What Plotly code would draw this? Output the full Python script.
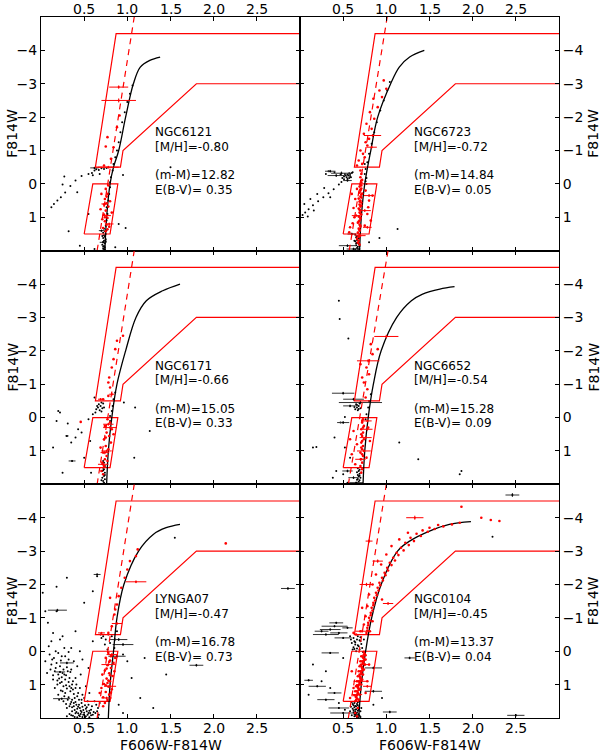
import plotly.graph_objects as go
from plotly.subplots import make_subplots

# panel order, row by row
clusters = ['NGC6121', 'NGC6723', 'NGC6171', 'NGC6652', 'LYNGA07', 'NGC0104']
metallicity = ['-0.80', '-0.72', '-0.66', '-0.54', '-0.47', '-0.45']
dist_modulus = ['12.82', '14.84', '15.05', '15.28', '16.78', '13.37']
reddening = ['0.35', '0.05', '0.33', '0.09', '0.73', '0.04']

x_ticks = [0.5, 1.0, 1.5, 2.0, 2.5]
y_ticks = [-4, -3, -2, -1, 0, 1]

# selection region (same in every panel)
upper_box_x = [3.0, 0.87, 0.63, 0.92, 0.95, 1.8, 3.0]
upper_box_y = [-4.5, -4.5, -0.5, -0.5, -1.0, -3.0, -3.0]
lower_box_x = [0.5, 0.6, 0.89, 0.8, 0.5]
lower_box_y = [1.5, 0.0, 0.0, 1.5, 1.5]
gray_levels = [-3.5, -3.0]

# dashed red line, colour at F814W = 2 and -5
dash_y = [2.0, -5.0]
dash_x = {
    'NGC6121': [0.65, 1.08], 'NGC6723': [0.57, 1.01], 'NGC6171': [0.65, 1.08],
    'NGC6652': [0.56, 1.02], 'LYNGA07': [0.65, 1.08], 'NGC0104': [0.56, 1.00],
}

# isochrones
iso = {
    'NGC6121': ([0.74, 0.76, 0.80, 0.84, 0.90, 0.98, 1.07, 1.15, 1.26, 1.38],
                [2.0, 1.0, 0.0, -0.5, -1.0, -2.0, -3.0, -3.5, -3.7, -3.8]),
    'NGC6723': ([0.69, 0.71, 0.75, 0.82, 0.90, 1.05, 1.15, 1.27, 1.44],
                [2.0, 1.0, 0.0, -1.0, -2.0, -3.0, -3.5, -3.8, -4.0]),
    'NGC6171': ([0.76, 0.78, 0.82, 0.88, 0.98, 1.10, 1.22, 1.41, 1.61],
                [2.0, 1.0, 0.0, -1.0, -2.0, -3.0, -3.5, -3.8, -4.0]),
    'NGC6652': ([0.73, 0.75, 0.79, 0.85, 0.94, 1.12, 1.29, 1.42, 1.62, 1.79],
                [2.0, 1.0, 0.0, -1.0, -2.0, -3.0, -3.5, -3.7, -3.85, -3.92]),
    'LYNGA07': ([0.78, 0.80, 0.84, 0.88, 0.96, 1.13, 1.30, 1.45, 1.61],
                [2.0, 1.0, 0.0, -1.0, -2.0, -3.0, -3.5, -3.7, -3.8]),
    'NGC0104': ([0.68, 0.71, 0.76, 0.83, 0.94, 1.13, 1.27, 1.50, 1.73, 1.98],
                [2.0, 1.0, 0.0, -1.0, -2.0, -3.0, -3.3, -3.6, -3.8, -3.88]),
}

# ---- NGC6121 ----
ngc6121_black = [
    (0.12, 0.70), (0.15, 0.60), (0.19, 0.50), (0.23, 0.40), (0.28, 0.26), (0.34, 0.06),
    (0.40, -0.10), (0.47, -0.24), (0.27, -0.22), (0.25, 0.02), (0.42, 0.25),
    (0.32, 1.42), (0.45, 1.85), (0.55, -0.30), (0.59, -0.33), (0.62, -0.40), (0.64, -0.44),
    (0.67, -0.42), (0.70, -0.47), (0.73, -0.45), (0.76, -0.48), (0.60, -0.26), (0.68, -0.30),
    (0.95, -0.27), (0.98, 1.32), (1.50, -0.50), (0.62, 1.95), (0.86, 1.90), (0.90, 1.20),
    (0.55, 0.90), (0.73, 1.98), (0.72, 1.94), (0.74, 1.90), (0.73, 1.86), (0.71, 1.82),
    (0.74, 1.78), (0.72, 1.74), (0.73, 1.70), (0.75, 1.66), (0.72, 1.62), (0.74, 1.58),
    (0.73, 1.54), (0.75, 1.50), (0.72, 1.46), (0.74, 1.42), (0.76, 1.38), (0.73, 1.34),
    (0.75, 1.25), (0.76, 1.10), (0.77, 0.90), (0.76, 0.70), (0.78, 0.50), (0.79, 0.30),
    (0.80, 0.10), (0.80, -0.05), (0.81, -0.20), (0.83, -0.40), (0.84, -0.60), (0.86, -0.80),
    (0.88, -1.00), (0.90, -1.25), (0.92, -1.55), (0.94, -1.85), (0.97, -2.15), (1.00, -2.45),
    (1.03, -2.70), (1.06, -2.95), (0.74, 1.96), (0.72, 1.88), (0.75, 1.72), (0.71, 1.56),
]
ngc6121_black_err = [(0.62, -0.48, 0.05, 0.03), (0.72, 1.75, 0.04, 0.03), (0.70, 1.40, 0.03, 0.03)]
ngc6121_red = [
    (0.75, 0.15), (0.77, 0.30), (0.74, 0.45), (0.76, 0.58), (0.78, 0.68), (0.75, 0.80),
    (0.73, 0.92), (0.77, 1.02), (0.74, 1.12), (0.76, 1.22), (0.72, 1.32), (0.75, 1.42),
    (0.70, 0.30), (0.80, 0.52), (0.69, 0.76), (0.82, 0.86), (0.71, 1.06), (0.79, 1.28),
    (0.78, 0.05), (0.73, 0.62), (0.73, -0.55), (0.81, -0.75), (0.84, -1.10), (0.77, -1.40),
    (0.88, -1.70), (0.91, -2.05), (0.75, -1.12), (0.76, 0.38), (0.74, 1.00), (0.77, 1.36),
]
ngc6121_red_err = [
    (0.78, -0.50, 0.12, 0.04), (0.90, -2.50, 0.20, 0.06), (0.90, -2.90, 0.11, 0.05),
    (0.76, 0.95, 0.05, 0.05), (0.74, 0.60, 0.04, 0.04), (0.79, 1.20, 0.05, 0.04),
]

# ---- NGC6723 ----
ngc6723_black = [
    (0.00, 1.00), (0.03, 0.93), (0.06, 0.86), (0.10, 0.76), (0.15, 0.64), (0.21, 0.52),
    (0.27, 0.40), (0.33, 0.28), (0.39, 0.16), (0.45, 0.02), (0.48, -0.06), (0.51, -0.14),
    (0.54, -0.20), (0.56, -0.25), (0.58, -0.30), (0.60, -0.33),
    (0.53, -0.25), (0.55, -0.15), (0.57, -0.32), (0.59, -0.20), (0.51, -0.22), (0.49, -0.18),
    (0.61, -0.35), (0.47, -0.28), (0.05, 0.60), (0.12, 0.45), (0.20, 0.30), (0.28, 0.12),
    (0.35, 0.40), (0.09, 0.98), (0.16, 0.80), (0.40, -0.35), (0.30, -0.30), (0.33, -0.38),
    (0.55, -0.28), (0.57, -0.18), (0.52, -0.30), (0.58, -0.24),
    (0.75, -0.60), (0.76, -0.45), (0.75, -0.30), (0.77, -0.18), (0.76, -0.08), (0.77, 0.00),
    (0.64, 1.52), (0.66, 1.56), (0.65, 1.60), (0.67, 1.64), (0.66, 1.68), (0.64, 1.72),
    (0.66, 1.76), (0.68, 1.80), (0.65, 1.84), (0.67, 1.88), (0.66, 1.92), (0.64, 1.96),
    (0.68, 1.99), (0.63, 1.70), (0.69, 1.86), (0.65, 1.78), (0.67, 1.94), (0.68, 1.62),
    (0.78, -0.65), (0.80, -0.90), (0.83, -1.20), (0.86, -1.55), (0.89, -1.85), (0.93, -2.20),
    (0.97, -2.50), (1.01, -2.80), (1.04, -3.05), (1.13, 1.35), (0.92, 1.62), (0.80, 1.75),
]
ngc6723_black_err = [
    (0.42, -0.25, 0.10, 0.04), (0.35, -0.38, 0.06, 0.04), (0.48, -0.32, 0.12, 0.05),
    (0.55, -0.10, 0.05, 0.03), (0.60, 1.50, 0.05, 0.04), (0.55, 1.85, 0.10, 0.04),
    (0.62, 1.95, 0.08, 0.04),
]
ngc6723_red = [
    (0.70, -0.40), (0.71, -0.30), (0.70, -0.20), (0.72, -0.12), (0.71, -0.05), (0.70, 0.02),
    (0.69, 0.08), (0.71, 0.14), (0.70, 0.20), (0.69, 0.26), (0.71, 0.32), (0.70, 0.38),
    (0.68, 0.44), (0.70, 0.50), (0.71, 0.56), (0.69, 0.62), (0.70, 0.68), (0.68, 0.74),
    (0.70, 0.80), (0.69, 0.86), (0.71, 0.92), (0.68, 0.98), (0.70, 1.04), (0.69, 1.10),
    (0.67, 1.16), (0.69, 1.22), (0.70, 1.28), (0.68, 1.34), (0.69, 1.40), (0.67, 1.46),
    (0.69, 1.52), (0.68, 1.58), (0.66, 1.64), (0.68, 1.70), (0.67, 1.76), (0.69, 1.82),
    (0.71, 0.05), (0.70, 0.17), (0.72, 0.29), (0.71, 0.41), (0.69, 0.53), (0.71, 0.65),
    (0.69, 0.77), (0.70, 0.89), (0.70, 1.01), (0.68, 1.13), (0.70, 1.25), (0.69, 1.37),
    (0.60, 0.30), (0.62, 0.72), (0.80, 0.50), (0.82, 1.10), (0.58, 1.30), (0.63, 1.00),
    (0.76, 0.20), (0.66, 0.15), (0.78, 0.90), (0.64, 0.45), (0.75, 1.25), (0.57, 1.45),
    (0.84, 0.35), (0.61, 1.18), (0.79, 0.70), (0.72, -0.60), (0.75, -0.80), (0.70, -1.00),
    (0.78, -1.15), (0.80, -1.35), (0.74, -1.50), (0.83, -1.65), (0.77, -1.80), (0.86, -1.95),
    (0.81, -2.15), (0.90, -2.30), (0.85, -2.55), (0.95, -2.60), (0.92, -2.80), (1.00, -2.85),
    (0.97, -3.10), (0.68, -0.70), (0.66, -0.55), (0.73, -0.90), (0.76, -1.25),
]
ngc6723_red_err = [
    (0.84, -1.45, 0.10, 0.04), (0.83, -1.10, 0.06, 0.04), (0.80, 0.35, 0.06, 0.04),
    (0.75, 0.80, 0.07, 0.04), (0.78, 1.30, 0.05, 0.04), (0.70, 1.55, 0.06, 0.04),
    (0.65, 0.95, 0.05, 0.04),
]

# ---- NGC6171 ----
ngc6171_black = [
    (0.64, -0.25), (0.66, -0.30), (0.68, -0.22), (0.69, -0.35), (0.70, -0.18), (0.67, -0.40),
    (0.71, -0.28), (0.72, -0.42), (0.65, -0.35), (0.70, -0.45), (0.73, -0.30), (0.63, -0.15),
    (0.72, 1.30), (0.73, 1.35), (0.71, 1.40), (0.74, 1.45), (0.72, 1.50), (0.73, 1.55),
    (0.71, 1.60), (0.74, 1.65), (0.72, 1.70), (0.73, 1.75), (0.71, 1.80), (0.74, 1.85),
    (0.72, 1.90), (0.73, 1.95), (0.71, 1.98), (0.74, 1.72), (0.72, 1.58), (0.70, 1.88),
    (0.80, 0.10), (0.80, -0.05), (0.82, -0.20), (0.83, -0.35), (0.84, -0.55), (0.86, -0.75),
    (0.20, -0.20), (0.18, 0.10), (0.31, 0.18), (0.14, 0.90), (0.25, 1.65), (0.58, 1.65),
    (0.43, 0.35), (0.50, 1.20), (0.57, 0.70), (1.08, 1.20), (1.26, 0.40), (0.96, -0.45),
    (1.09, -0.30), (0.60, -0.10), (0.47, 0.45), (0.62, -0.60), (0.35, 0.75), (0.22, -0.15),
    (0.40, 0.60), (0.55, 0.05),
]
ngc6171_black_err = [(0.36, 1.30, 0.04, 0.03), (0.30, 0.55, 0.02, 0.02)]
ngc6171_red = [
    (0.77, 0.05), (0.80, 0.15), (0.74, 0.25), (0.82, 0.35), (0.76, 0.45), (0.79, 0.55),
    (0.73, 0.65), (0.81, 0.75), (0.75, 0.85), (0.78, 0.95), (0.72, 1.05), (0.76, 1.15),
    (0.74, 1.25), (0.71, 1.35), (0.73, 1.45), (0.69, 0.90), (0.84, 0.50), (0.70, 1.60),
    (0.72, 1.70), (0.46, 0.13), (0.78, -0.65), (0.80, -0.90), (0.79, -1.20), (0.82, -1.50),
    (0.84, -1.75), (0.86, -2.05), (0.95, -2.45), (0.88, -2.30), (0.78, -1.05), (0.72, -0.55),
    (0.75, 0.60), (0.77, 1.30),
]
ngc6171_red_err = [
    (0.78, 0.20, 0.06, 0.04), (0.80, 0.30, 0.08, 0.04), (0.76, 1.00, 0.06, 0.04),
    (0.72, 1.40, 0.06, 0.04), (0.74, 1.05, 0.05, 0.05), (0.82, -0.70, 0.03, 0.05),
    (0.69, -0.55, 0.03, 0.03),
]

# ---- NGC6652 ----
ngc6652_black = [
    (0.64, -0.25), (0.66, -0.30), (0.68, -0.35), (0.65, -0.40), (0.70, -0.28), (0.67, -0.22),
    (0.69, -0.42), (0.63, -0.32), (0.66, -0.38), (0.68, -0.26),
    (0.67, 1.52), (0.69, 1.56), (0.68, 1.60), (0.66, 1.64), (0.69, 1.68), (0.67, 1.72),
    (0.68, 1.76), (0.70, 1.80), (0.67, 1.84), (0.69, 1.88), (0.68, 1.92), (0.66, 1.96),
    (0.70, 1.99), (0.69, 1.74), (0.66, 1.86),
    (0.76, 0.05), (0.77, -0.10), (0.79, -0.30), (0.80, -0.50), (0.82, -0.70),
    (0.15, 0.90), (0.19, 0.88), (0.45, -3.50), (0.46, -2.95), (0.56, -2.37), (1.37, 1.25),
    (1.15, 0.75), (1.87, 1.60), (1.85, 1.70), (0.42, 1.60), (0.38, 1.80), (0.50, 1.70),
    (0.55, 1.95), (0.47, 0.15), (0.52, -0.02), (0.40, 0.60), (0.52, 0.90), (0.58, 1.20),
]
ngc6652_black_err = [
    (0.50, -0.73, 0.13, 0.04), (0.70, -0.45, 0.25, 0.05), (0.62, -0.55, 0.12, 0.04),
    (0.50, 0.15, 0.07, 0.04), (0.55, 1.60, 0.06, 0.04), (0.62, 1.80, 0.06, 0.04),
    (0.58, -0.35, 0.08, 0.04), (0.65, 1.95, 0.08, 0.03),
]
ngc6652_red = [
    (0.73, 0.05), (0.72, 0.15), (0.74, 0.25), (0.71, 0.35), (0.73, 0.45), (0.72, 0.55),
    (0.74, 0.65), (0.71, 0.75), (0.73, 0.85), (0.72, 0.95), (0.70, 1.05), (0.73, 1.15),
    (0.71, 1.25), (0.72, 1.35), (0.70, 1.45), (0.72, 1.55), (0.71, 1.65), (0.62, 0.40),
    (0.66, 0.80), (0.79, 0.30), (0.81, 0.70), (0.60, 1.10), (0.77, 1.20), (0.64, 1.40),
    (0.58, 0.65), (0.76, -0.60), (0.78, -0.85), (0.74, -1.05), (0.80, -1.30), (0.77, -1.50),
    (0.84, -1.90), (0.82, -2.20), (0.90, -2.05), (0.72, -1.20), (0.70, -1.60),
    (0.72, 0.10), (0.73, 0.30), (0.71, 0.50), (0.72, 0.70), (0.71, 0.90), (0.72, 1.10),
]
ngc6652_red_err = [
    (0.79, -1.70, 0.13, 0.05), (1.00, -2.43, 0.14, 0.05), (0.78, 0.10, 0.05, 0.04),
    (0.76, 0.60, 0.07, 0.04), (0.74, 1.00, 0.08, 0.04), (0.70, 1.25, 0.06, 0.04),
    (0.78, 0.35, 0.06, 0.04),
]

# ---- LYNGA07 ----
lynga07_black = [
    (0.05, -1.20), (0.08, -0.85), (0.02, -1.75), (0.18, -1.93), (0.30, -2.20), (0.65, -2.25),
    (0.50, -1.45), (0.60, -1.80), (0.18, -1.20), (0.12, -0.30), (0.25, -0.45), (0.40, -0.60),
    (0.10, 0.10), (0.15, 0.20), (0.20, 0.05), (0.28, 0.15), (0.35, -0.10), (0.45, 0.00),
    (0.12, 0.40), (0.18, 0.35), (0.22, 0.45), (0.26, 0.55), (0.30, 0.48), (0.34, 0.62),
    (0.16, 0.60), (0.20, 0.70), (0.24, 0.78), (0.28, 0.85), (0.32, 0.92), (0.36, 1.00),
    (0.22, 0.95), (0.26, 1.05), (0.30, 1.12), (0.34, 1.20), (0.38, 1.28), (0.42, 1.35),
    (0.28, 1.25), (0.32, 1.38), (0.36, 1.45), (0.40, 1.52), (0.44, 1.60), (0.48, 1.66),
    (0.34, 1.58), (0.38, 1.65), (0.42, 1.72), (0.46, 1.78), (0.50, 1.84), (0.54, 1.90),
    (0.36, 1.80), (0.40, 1.86), (0.44, 1.92), (0.48, 1.97), (0.52, 1.95), (0.56, 1.98),
    (0.30, 1.70), (0.26, 1.50), (0.20, 1.30), (0.16, 1.10), (0.14, 0.85), (0.40, 0.80),
    (0.45, 1.10), (0.50, 1.40), (0.55, 1.60), (0.58, 1.75), (0.60, 1.90), (0.46, 0.70),
    (0.52, 1.05), (0.56, 1.25), (0.38, 0.30), (0.42, 0.45), (0.48, 0.25), (0.55, 0.50),
    (0.62, 1.50), (0.64, 1.60), (0.66, 1.70), (0.65, 1.80), (0.67, 1.90), (0.66, 1.98),
    (0.68, 1.55), (0.63, 1.85), (0.60, -0.30), (0.70, -0.40), (0.75, -0.35), (0.80, -0.25),
    (0.85, -0.10), (0.82, -0.45), (0.78, -0.50), (0.95, 0.10), (1.00, 0.30), (1.05, 0.80),
    (1.15, 1.40), (1.30, 1.70), (1.20, 0.20), (0.90, 1.60), (0.95, 1.85), (1.55, -3.40),
    (1.45, 0.70), (0.32, 0.25), (0.24, 0.15), (0.44, 1.45), (0.48, 1.30), (0.40, 1.10),
    (0.36, 1.68), (0.52, 1.72), (0.46, 1.88), (0.58, 1.92), (0.42, 1.98), (0.30, 1.95),
    (0.33, 1.88), (0.37, 1.93), (0.41, 1.82), (0.45, 1.95), (0.49, 1.90), (0.53, 1.80),
    (0.57, 1.85), (0.39, 1.76), (0.43, 1.66), (0.47, 1.55), (0.51, 1.62), (0.35, 1.52),
    (0.31, 1.45), (0.27, 1.35), (0.23, 1.18), (0.19, 1.00), (0.25, 0.65), (0.29, 0.72),
    (0.33, 0.80), (0.37, 0.90), (0.41, 1.00), (0.35, 1.10), (0.39, 1.40), (0.43, 1.25),
    (0.21, 0.82), (0.17, 0.50), (0.13, 0.25), (0.23, 0.28), (0.27, -0.10), (0.32, 0.02),
    (0.74, -0.20), (0.72, -0.45), (0.86, -0.35), (0.77, -0.05), (0.69, -0.50), (0.88, -0.60),
    (0.11, 0.55), (0.14, 0.72), (0.19, 0.88), (0.24, 0.92), (0.27, 0.70), (0.31, 0.60),
    (0.35, 0.55), (0.29, 1.02), (0.33, 1.05), (0.37, 1.15), (0.25, 1.20), (0.21, 1.45),
    (0.29, 1.58), (0.33, 1.65), (0.38, 1.55), (0.45, 1.70), (0.49, 1.76), (0.53, 1.68),
    (0.56, 1.78), (0.61, 1.82), (0.59, 1.65), (0.54, 1.50), (0.47, 1.45), (0.41, 1.60),
    (0.35, 1.92), (0.39, 1.97), (0.43, 1.86), (0.47, 1.82), (0.51, 1.99), (0.55, 1.85),
    (0.17, 0.00), (0.09, -0.15), (0.22, -0.35), (0.14, -0.55), (0.05, 0.30), (0.07, 0.65),
]
lynga07_black_err = [
    (0.19, -1.23, 0.11, 0.04), (1.80, 0.42, 0.08, 0.04), (2.86, -1.88, 0.08, 0.04),
    (0.90, -0.35, 0.10, 0.04), (0.95, -0.20, 0.12, 0.04), (0.88, 0.15, 0.10, 0.04),
    (0.30, 0.35, 0.08, 0.04), (0.22, 0.62, 0.06, 0.03), (0.24, 1.42, 0.10, 0.03),
    (0.65, -2.30, 0.04, 0.03),
]
lynga07_red = [
    (0.78, 0.05), (0.82, 0.12), (0.75, 0.20), (0.80, 0.28), (0.84, 0.35), (0.77, 0.42),
    (0.81, 0.50), (0.74, 0.58), (0.79, 0.66), (0.83, 0.74), (0.76, 0.82), (0.80, 0.90),
    (0.73, 0.98), (0.78, 1.06), (0.82, 1.14), (0.75, 1.22), (0.79, 1.30), (0.72, 1.38),
    (0.77, 1.46), (0.70, 1.10), (0.85, 0.60), (0.71, 0.70), (0.86, 0.20), (0.68, 1.25),
    (0.74, 1.55), (0.72, 1.65), (0.78, -0.55), (0.82, -0.75), (0.85, -1.10), (0.88, -1.40),
    (0.90, -1.65), (0.93, -1.90), (0.97, -2.20), (1.00, -2.45), (1.03, -2.70), (1.10, -2.85),
    (1.12, -3.05), (2.14, -3.23), (0.80, -1.60), (0.86, -1.25), (0.81, 0.15), (0.77, 0.95),
    (0.79, 0.32), (0.76, 0.52), (0.80, 0.72), (0.78, 0.88), (0.75, 1.02), (0.81, 1.24),
]
lynga07_red_err = [
    (1.10, -2.08, 0.12, 0.04), (0.88, -0.83, 0.06, 0.04), (0.82, 0.10, 0.06, 0.04),
    (0.78, 0.40, 0.08, 0.04), (0.80, 1.05, 0.07, 0.04), (0.76, 1.40, 0.06, 0.04),
    (0.70, -0.55, 0.04, 0.03),
]

# ---- NGC0104 ----
ngc0104_black = [
    (0.60, 1.52), (0.63, 1.55), (0.66, 1.58), (0.62, 1.62), (0.65, 1.65), (0.68, 1.68),
    (0.61, 1.72), (0.64, 1.75), (0.67, 1.78), (0.70, 1.80), (0.62, 1.83), (0.65, 1.86),
    (0.68, 1.89), (0.60, 1.92), (0.63, 1.95), (0.66, 1.98), (0.69, 1.93), (0.71, 1.70),
    (0.58, 1.80), (0.64, 1.90), (0.67, 1.62), (0.70, 1.97), (0.59, 1.66), (0.66, 1.84),
    (0.63, 1.68), (0.65, 1.74), (0.64, 1.81), (0.66, 1.91), (0.62, 1.77), (0.67, 1.53),
    (0.61, 1.58), (0.64, 1.64), (0.67, 1.70), (0.63, 1.88), (0.65, 1.94), (0.68, 1.75),
    (0.58, -0.45), (0.62, -0.40), (0.66, -0.35), (0.70, -0.30), (0.60, -0.25), (0.64, -0.20),
    (0.68, -0.15), (0.72, -0.10), (0.61, -0.05), (0.65, 0.00), (0.69, -0.05), (0.63, -0.30),
    (0.67, -0.45), (0.71, -0.22), (0.74, -0.35), (0.62, -0.12), (0.66, -0.08), (0.59, -0.35),
    (0.73, 0.02), (0.70, -0.42), (0.64, -0.27), (0.67, -0.18), (0.63, -0.07), (0.69, -0.33),
    (0.15, 0.40), (0.25, 0.90), (0.35, 1.10), (0.45, 1.55), (0.52, 1.75), (0.10, 1.30),
    (0.85, 1.60), (0.95, 1.40), (2.23, -3.43), (0.30, 0.60), (0.50, 0.20),
]
ngc0104_black_err = [
    (0.40, -0.75, 0.15, 0.03), (0.35, -0.65, 0.12, 0.03), (0.45, -0.55, 0.10, 0.03),
    (0.30, -0.50, 0.15, 0.03), (0.50, -0.40, 0.10, 0.03), (0.42, -0.85, 0.08, 0.03),
    (0.55, -0.70, 0.06, 0.03), (0.25, -0.60, 0.08, 0.03), (0.10, 0.87, 0.05, 0.03),
    (0.30, 1.45, 0.10, 0.03), (0.45, 1.70, 0.12, 0.03), (0.50, 1.85, 0.15, 0.03),
    (2.46, -4.68, 0.08, 0.06), (2.50, 1.92, 0.10, 0.04), (1.04, 1.82, 0.08, 0.04),
    (1.27, 0.20, 0.06, 0.04), (0.85, 0.50, 0.10, 0.04), (0.85, 1.20, 0.10, 0.04),
    (0.40, 1.25, 0.08, 0.03), (0.35, 0.05, 0.10, 0.03), (0.20, 1.05, 0.10, 0.03),
]
ngc0104_red = [
    (0.64, 1.50), (0.66, 1.42), (0.65, 1.35), (0.67, 1.28), (0.66, 1.20), (0.68, 1.12),
    (0.67, 1.05), (0.69, 0.98), (0.68, 0.90), (0.70, 0.82), (0.69, 0.75), (0.71, 0.68),
    (0.70, 0.60), (0.72, 0.52), (0.71, 0.45), (0.73, 0.38), (0.72, 0.30), (0.74, 0.22),
    (0.73, 0.15), (0.75, 0.08), (0.74, 0.02), (0.65, 1.46), (0.68, 1.16), (0.70, 0.88),
    (0.72, 0.58), (0.74, 0.28), (0.63, 1.32), (0.66, 1.02), (0.69, 0.70), (0.71, 0.40),
    (0.65, 1.38), (0.67, 1.24), (0.67, 1.09), (0.69, 0.94), (0.70, 0.78), (0.71, 0.64),
    (0.72, 0.48), (0.73, 0.34), (0.73, 0.19), (0.74, 0.10), (0.66, 1.31), (0.68, 1.01),
    (0.68, 1.45), (0.69, 1.30), (0.70, 1.15), (0.71, 1.00), (0.72, 0.85), (0.73, 0.70),
    (0.74, 0.55), (0.75, 0.40), (0.76, 0.25), (0.76, 0.12), (0.64, 1.20), (0.65, 1.05),
    (0.66, 0.90), (0.67, 0.75), (0.68, 0.60), (0.69, 0.45), (0.70, 0.30), (0.71, 0.15),
    (0.60, 0.60), (0.78, 0.90), (0.62, 1.10), (0.80, 0.40), (0.58, 1.40), (0.76, 1.25),
    (0.77, -0.55), (0.78, -0.70), (0.79, -0.85), (0.80, -1.00), (0.82, -1.15), (0.83, -1.30),
    (0.85, -1.45), (0.86, -1.60), (0.88, -1.75), (0.90, -1.90), (0.92, -2.05), (0.95, -2.20),
    (0.98, -2.35), (1.01, -2.50), (1.04, -2.65), (1.08, -2.80), (1.12, -2.95), (1.17, -3.10),
    (1.22, -3.25), (1.28, -3.40), (1.35, -3.52), (1.42, -3.62), (1.50, -3.70), (1.60, -3.78),
    (0.74, -0.80), (0.76, -1.05), (0.78, -1.35), (0.80, -1.70), (0.84, -2.00), (0.88, -2.30),
    (0.94, -2.60), (1.00, -2.90), (1.06, -3.15), (1.15, -3.35), (1.25, -3.55), (0.70, -0.60),
    (0.78, -0.62), (0.79, -0.78), (0.81, -0.92), (0.82, -1.08), (0.84, -1.22), (0.85, -1.38),
    (0.87, -1.52), (0.89, -1.68), (0.91, -1.82), (0.93, -1.98), (0.96, -2.12), (0.99, -2.28),
    (1.02, -2.42), (1.06, -2.58), (1.10, -2.72), (1.14, -2.88), (1.20, -3.02), (1.26, -3.18),
    (1.32, -3.30), (1.40, -3.45), (1.48, -3.58), (1.56, -3.66), (1.66, -3.74), (1.76, -3.80),
    (0.65, -0.50), (0.62, -0.55), (0.81, -0.60), (0.84, -0.90), (1.87, -4.33), (2.10, -4.00),
    (2.21, -3.93), (2.31, -3.90), (1.85, -3.85), (0.95, -1.55), (0.72, -1.30), (0.67, 1.70),
    (0.64, 1.85), (0.66, 1.95),
]
ngc0104_red_err = [
    (1.33, -4.00, 0.10, 0.06), (0.80, -3.30, 0.04, 0.05), (0.90, -2.70, 0.06, 0.05),
    (0.77, -2.00, 0.08, 0.05), (1.02, -1.43, 0.06, 0.04), (0.72, -0.60, 0.08, 0.04),
    (0.75, 0.40, 0.06, 0.04), (0.70, 0.90, 0.08, 0.04), (0.66, 1.30, 0.06, 0.04),
    (0.78, 1.05, 0.05, 0.04),
]

stars = {
    'NGC6121': (ngc6121_black, ngc6121_black_err, ngc6121_red, ngc6121_red_err),
    'NGC6723': (ngc6723_black, ngc6723_black_err, ngc6723_red, ngc6723_red_err),
    'NGC6171': (ngc6171_black, ngc6171_black_err, ngc6171_red, ngc6171_red_err),
    'NGC6652': (ngc6652_black, ngc6652_black_err, ngc6652_red, ngc6652_red_err),
    'LYNGA07': (lynga07_black, lynga07_black_err, lynga07_red, lynga07_red_err),
    'NGC0104': (ngc0104_black, ngc0104_black_err, ngc0104_red, ngc0104_red_err),
}

FONT = 'DejaVu Sans'
TITLE_FONT = dict(family=FONT, size=14, color='black')

fig = make_subplots(rows=3, cols=2, horizontal_spacing=0, vertical_spacing=0)


def add_points(pts, color, size, row, col):
    fig.add_trace(go.Scatter(x=[p[0] for p in pts], y=[p[1] for p in pts], mode='markers',
                             marker=dict(color=color, size=size), hoverinfo='skip'),
                  row=row, col=col)


def add_crosses(pts, color, bar_color, row, col):
    fig.add_trace(go.Scatter(x=[p[0] for p in pts], y=[p[1] for p in pts], mode='markers',
                             marker=dict(color=color, size=2),
                             error_x=dict(type='data', array=[p[2] for p in pts],
                                          color=bar_color, thickness=1, width=0),
                             error_y=dict(type='data', array=[p[3] for p in pts],
                                          color=bar_color, thickness=1, width=0),
                             hoverinfo='skip'),
                  row=row, col=col)


for i, name in enumerate(clusters):
    row, col = i // 2 + 1, i % 2 + 1
    black, black_err, red, red_err = stars[name]
    xref = 'x' if col == 1 else 'x2'

    for lev in gray_levels:
        fig.add_hline(y=lev, line=dict(color='#a0a0a0', width=1.2), layer='below',
                      row=row, col=col)

    add_points(black, 'black', 2, row, col)
    add_crosses(black_err, 'black', '#333333', row, col)

    # selection boxes and dashed line
    fig.add_trace(go.Scatter(x=upper_box_x, y=upper_box_y, mode='lines',
                             line=dict(color='red', width=1.2), hoverinfo='skip'),
                  row=row, col=col)
    fig.add_trace(go.Scatter(x=lower_box_x, y=lower_box_y, mode='lines',
                             line=dict(color='red', width=1.2), hoverinfo='skip'),
                  row=row, col=col)
    fig.add_trace(go.Scatter(x=dash_x[name], y=dash_y, mode='lines',
                             line=dict(color='red', width=1.2, dash='6px,5px'),
                             hoverinfo='skip'),
                  row=row, col=col)

    ix, iy = iso[name]
    fig.add_trace(go.Scatter(x=ix, y=iy, mode='lines', line=dict(color='black', width=1.3,
                                                                 shape='spline'),
                             hoverinfo='skip'),
                  row=row, col=col)

    add_points(red, 'red', 2.6, row, col)
    add_crosses(red_err, 'red', 'red', row, col)

    labels = [(name, -1.55), ('[M/H]=' + metallicity[i], -1.12),
              ('(m-M)=' + dist_modulus[i], -0.27), ('E(B-V)= ' + reddening[i], 0.17)]
    for text, ypos in labels:
        fig.add_annotation(x=1.3, y=ypos, text=text, showarrow=False, xanchor='left',
                           yanchor='middle', font=dict(family=FONT, size=12, color='black'),
                           row=row, col=col)

    # colour tick labels on the outer rows, set close to the frame
    if row in (1, 3):
        for t in x_ticks:
            fig.add_annotation(x=t, y=1 if row == 1 else 0, xref=xref, yref='paper',
                               text='%.1f' % t, showarrow=False, xanchor='center',
                               yanchor='middle', yshift=8 if row == 1 else -10,
                               font=TITLE_FONT)

fig.update_xaxes(range=[0, 3], tickvals=x_ticks, ticks='inside',
                 ticklen=4, tickcolor='black', showline=True, linecolor='black', linewidth=1,
                 mirror='allticks', showgrid=False, zeroline=False, showticklabels=False,
                 automargin=False)
fig.update_yaxes(range=[2, -5], tickvals=y_ticks, ticks='inside', ticklen=4,
                 tickcolor='black', showline=True, linecolor='black', linewidth=1,
                 mirror='allticks', showgrid=False, zeroline=False, automargin=False,
                 tickfont=TITLE_FONT)
fig.update_yaxes(side='right', col=2)

# axis titles placed in the margins
for r in range(3):
    ymid = 1 - (r + 0.5) / 3
    fig.add_annotation(x=0, y=ymid, xref='paper', yref='paper', text='F814W',
                       textangle=-90, showarrow=False, xanchor='center', yanchor='middle',
                       xshift=-29, font=TITLE_FONT)
    fig.add_annotation(x=1, y=ymid, xref='paper', yref='paper', text='F814W',
                       textangle=-90, showarrow=False, xanchor='center', yanchor='middle',
                       xshift=34, font=TITLE_FONT)
for xmid in [0.25, 0.75]:
    fig.add_annotation(x=xmid, y=0, xref='paper', yref='paper', text='F606W-F814W',
                       showarrow=False, xanchor='center', yanchor='middle', yshift=-26.5,
                       font=TITLE_FONT)

fig.update_layout(width=600, height=752, showlegend=False, plot_bgcolor='white',
                  paper_bgcolor='white', margin=dict(l=41, r=41, t=17, b=34),
                  font=dict(family=FONT))

# the page's default body margin would push the figure 8px right and down
fig.write_html("out.html", config={'displayModeBar': False},
               post_script="document.body.style.margin = '0';")
